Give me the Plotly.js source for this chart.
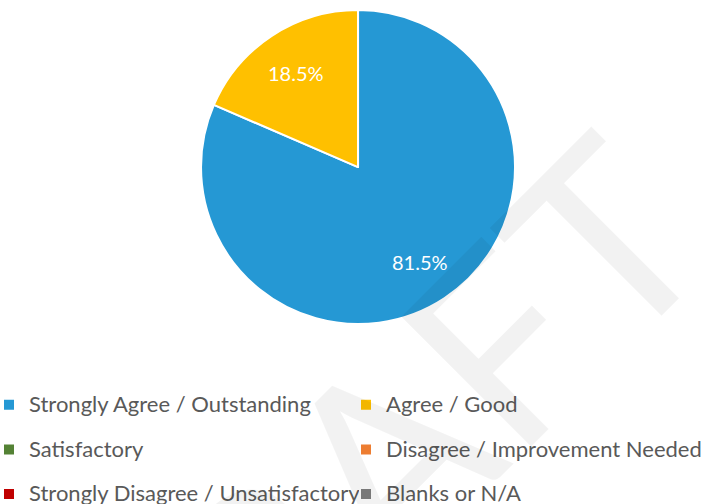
<!DOCTYPE html>
<html>
<head>
<meta charset="utf-8">
<script src="https://cdn.plot.ly/plotly-3.0.1.min.js"></script>
<style>
  html, body { margin: 0; padding: 0; overflow: hidden; background: #fff; }
  #chart { position: absolute; left: -11px; top: 0; width: 718px; height: 504px; }
</style>
</head>
<body>
<div id="chart"></div>
<script>
"use strict";

// responses per rating (27 in total)
var ratings = [
    "Strongly Agree / Outstanding",
    "Agree / Good",
    "Satisfactory",
    "Disagree / Improvement Needed",
    "Strongly Disagree / Unsatisfactory",
    "Blanks or N/A"
];
var responses = [22, 5, 0, 0, 0, 0];
var sliceColors = ["#2598D4", "#FFC000", "#548235", "#ED7D31", "#C00000", "#7F7F7F"];

var FONT = "Lato, 'Open Sans', sans-serif";
var W = 718, H = 504;
var pieDomain = {x: [0.2953, 0.7326], y: [0.357, 0.980]};

// legend rows are tall in the original, so the legend font sets the row height
// and the visible text size is set on the label itself
var legendLabels = ratings.map(function(r){
    return '<span style="font-size:22px;baseline-shift:5px">' + r + '</span>';
});

var trace = {
    type: "pie",
    labels: legendLabels,
    values: responses,
    sort: false,
    direction: "clockwise",
    rotation: 0,
    marker: {
        colors: sliceColors,
        line: {color: "#ffffff", width: 2}
    },
    textinfo: "none",
    hoverinfo: "none",
    domain: pieDomain
};

// percentage labels, placed like Excel does: on the slice's mid angle, 72% out
function percentLabels(){
    var total = responses.reduce(function(a, b){ return a + b; }, 0);
    var cx = (pieDomain.x[0] + pieDomain.x[1]) / 2;
    var cy = (pieDomain.y[0] + pieDomain.y[1]) / 2;
    var r = Math.min((pieDomain.x[1] - pieDomain.x[0]) * W, (pieDomain.y[1] - pieDomain.y[0]) * H) / 2;
    var anns = [];
    var cum = 0;
    for(var i = 0; i < responses.length; i++){
        var v = responses[i];
        if(v > 0){
            var theta = 2 * Math.PI * (cum + v / 2) / total;
            anns.push({
                text: (100 * v / total).toFixed(1) + "%",
                xref: "paper", yref: "paper",
                x: cx + 0.72 * r * Math.sin(theta) / W,
                y: cy + 0.72 * r * Math.cos(theta) / H,
                xanchor: "center", yanchor: "middle",
                showarrow: false,
                font: {family: FONT, size: 20, color: "#ffffff"}
            });
        }
        cum += v;
    }
    return anns;
}

var watermark = {
    text: "DRAFT",
    xref: "paper", yref: "paper",
    x: 0.52, y: 0.0575,
    xanchor: "center", yanchor: "middle",
    showarrow: false,
    textangle: -45,
    font: {family: FONT, size: 256, color: "rgba(0,0,0,0.05)"}
};

var layout = {
    width: W,
    height: H,
    margin: {l: 0, r: 0, t: 0, b: 0, autoexpand: false},
    paper_bgcolor: "#ffffff",
    plot_bgcolor: "#ffffff",
    showlegend: true,
    legend: {
        orientation: "h",
        x: 0,
        xanchor: "left",
        y: 0.251,
        yanchor: "top",
        entrywidthmode: "fraction",
        entrywidth: 0.4972,
        font: {family: FONT, size: 32, color: "#595959"},
        bgcolor: "rgba(0,0,0,0)"
    },
    annotations: percentLabels().concat([watermark])
};

Plotly.newPlot("chart", [trace], layout, {displayModeBar: false, staticPlot: true});
</script>
</body>
</html>
